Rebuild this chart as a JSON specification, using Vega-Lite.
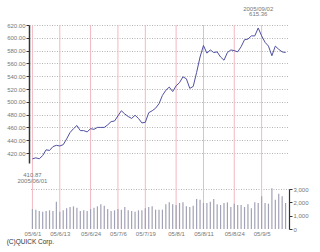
{
  "$schema": "https://vega.github.io/schema/vega-lite/v6.json",
  "padding": {"left": 6, "top": 5, "right": 0, "bottom": 0},
  "width": 260,
  "height": 204,
  "config": {"view": {"stroke": null}, "font": "Liberation Sans", "axis": {"labelFont": "Liberation Sans", "labelFontSize": 6, "labelColor": "#777", "title": null, "labelOverlap": false}},
  "title": {"text": "(C)QUICK Corp.", "orient": "bottom", "anchor": "start", "frame": "bounds", "fontSize": 6.5, "fontWeight": "normal", "color": "#333", "offset": 3, "font": "Liberation Sans"},
  "data": {"values": [
    {"date": "05/6/1", "price": 410.87, "vol": 1500, "label": "410.87\n2005/06/01"},
    {"date": "05/6/2", "price": 412.5, "vol": 1450},
    {"date": "05/6/3", "price": 411, "vol": 1350},
    {"date": "05/6/6", "price": 416, "vol": 1300},
    {"date": "05/6/7", "price": 425, "vol": 1350},
    {"date": "05/6/8", "price": 424, "vol": 1400},
    {"date": "05/6/9", "price": 430, "vol": 1350},
    {"date": "05/6/10", "price": 432, "vol": 2050},
    {"date": "05/6/13", "price": 431, "vol": 1300},
    {"date": "05/6/14", "price": 433, "vol": 1400},
    {"date": "05/6/15", "price": 442, "vol": 1550},
    {"date": "05/6/16", "price": 452, "vol": 1650},
    {"date": "05/6/17", "price": 458, "vol": 1700},
    {"date": "05/6/20", "price": 463, "vol": 1600},
    {"date": "05/6/21", "price": 455, "vol": 1350},
    {"date": "05/6/22", "price": 455, "vol": 1400},
    {"date": "05/6/23", "price": 453, "vol": 1350},
    {"date": "05/6/24", "price": 458, "vol": 1500},
    {"date": "05/6/27", "price": 457, "vol": 1600},
    {"date": "05/6/28", "price": 460, "vol": 1700},
    {"date": "05/6/29", "price": 460, "vol": 1850},
    {"date": "05/6/30", "price": 460, "vol": 1750},
    {"date": "05/7/1", "price": 464, "vol": 1500},
    {"date": "05/7/4", "price": 469, "vol": 1350},
    {"date": "05/7/5", "price": 470, "vol": 1400},
    {"date": "05/7/6", "price": 478, "vol": 1500},
    {"date": "05/7/7", "price": 486, "vol": 1450},
    {"date": "05/7/8", "price": 481, "vol": 1650},
    {"date": "05/7/11", "price": 477, "vol": 1400},
    {"date": "05/7/12", "price": 474, "vol": 1350},
    {"date": "05/7/13", "price": 479, "vol": 1300},
    {"date": "05/7/14", "price": 474, "vol": 1400},
    {"date": "05/7/15", "price": 467, "vol": 1400},
    {"date": "05/7/19", "price": 468, "vol": 1550},
    {"date": "05/7/20", "price": 483, "vol": 1650},
    {"date": "05/7/21", "price": 486, "vol": 1700},
    {"date": "05/7/22", "price": 490, "vol": 1450},
    {"date": "05/7/25", "price": 497, "vol": 1450},
    {"date": "05/7/26", "price": 510, "vol": 1450},
    {"date": "05/7/27", "price": 518, "vol": 1850},
    {"date": "05/7/28", "price": 523, "vol": 2000},
    {"date": "05/7/29", "price": 516, "vol": 1850},
    {"date": "05/8/1", "price": 525, "vol": 1800},
    {"date": "05/8/2", "price": 530, "vol": 1950},
    {"date": "05/8/3", "price": 539, "vol": 2000},
    {"date": "05/8/4", "price": 536, "vol": 1700},
    {"date": "05/8/5", "price": 521, "vol": 1650},
    {"date": "05/8/8", "price": 524, "vol": 1750},
    {"date": "05/8/9", "price": 546, "vol": 2250},
    {"date": "05/8/10", "price": 570, "vol": 2200},
    {"date": "05/8/11", "price": 588, "vol": 1950},
    {"date": "05/8/12", "price": 576, "vol": 1950},
    {"date": "05/8/15", "price": 581, "vol": 2050},
    {"date": "05/8/16", "price": 577, "vol": 2250},
    {"date": "05/8/17", "price": 578, "vol": 1850},
    {"date": "05/8/18", "price": 570, "vol": 1800},
    {"date": "05/8/19", "price": 565, "vol": 1950},
    {"date": "05/8/22", "price": 577, "vol": 2000},
    {"date": "05/8/23", "price": 581, "vol": 1650},
    {"date": "05/8/24", "price": 580, "vol": 1900},
    {"date": "05/8/25", "price": 578, "vol": 1800},
    {"date": "05/8/26", "price": 586, "vol": 1800},
    {"date": "05/8/29", "price": 597, "vol": 1650},
    {"date": "05/8/30", "price": 598, "vol": 1850},
    {"date": "05/8/31", "price": 603, "vol": 1550},
    {"date": "05/9/1", "price": 603, "vol": 2000},
    {"date": "05/9/2", "price": 615.36, "vol": 1950, "label": "2005/09/02\n615.36"},
    {"date": "05/9/5", "price": 603, "vol": 2450},
    {"date": "05/9/6", "price": 593, "vol": 1950},
    {"date": "05/9/7", "price": 587, "vol": 1900},
    {"date": "05/9/8", "price": 572, "vol": 3050},
    {"date": "05/9/9", "price": 587, "vol": 2200},
    {"date": "05/9/12", "price": 582, "vol": 2650},
    {"date": "05/9/13", "price": 578, "vol": 2450},
    {"date": "05/9/14", "price": 577, "vol": 1950}
  ]},
  "encoding": {
    "x": {"field": "date", "type": "ordinal", "sort": null, "scale": {"type": "point", "padding": 1},
      "axis": {"values": ["05/6/1", "05/6/13", "05/6/24", "05/7/6", "05/7/19", "05/8/1", "05/8/11", "05/8/24", "05/9/5"],
        "grid": false, "domain": false, "ticks": false, "labelAngle": 0, "labelPadding": 1, "labelOverlap": false}}
  },
  "layer": [
    {"mark": {"type": "rule", "color": "#f2b8c0", "strokeWidth": 1},
      "encoding": {"strokeOpacity": {"condition": {"test": "indexof(['05/6/1','05/6/13','05/6/24','05/7/6','05/7/19','05/8/1','05/8/11','05/8/24','05/9/5'], datum.date) >= 0", "value": 1}, "value": 0}}},
    {"encoding": {"y": {"field": "price", "type": "quantitative",
        "scale": {"domain": [404.4, 620], "range": [138, 0], "zero": false, "nice": false},
        "axis": {"values": [420, 440, 460, 480, 500, 520, 540, 560, 580, 600, 620], "format": ".2f", "labelOverlap": false, "labelSeparation": 0, "grid": true, "gridColor": "#b4b4b4", "gridDash": [1, 1.5], "domainColor": "#333", "domainWidth": 1.5, "tickColor": "#333", "tickSize": 3, "labelPadding": 1}}},
     "layer": [
      {"mark": {"type": "line", "color": "#5050a2", "strokeWidth": 1}},
      {"transform": [{"filter": {"field": "date", "equal": "05/6/1"}}],
        "mark": {"type": "text", "baseline": "top", "dy": 13, "lineBreak": "\n", "fontSize": 6, "lineHeight": 6.5, "color": "#777"},
        "encoding": {"text": {"field": "label"}}},
      {"transform": [{"filter": {"field": "date", "equal": "05/9/2"}}],
        "mark": {"type": "text", "baseline": "bottom", "dy": -16, "lineBreak": "\n", "fontSize": 6, "lineHeight": 5.5, "color": "#777"},
        "encoding": {"text": {"field": "label"}}}
    ]},
    {"mark": {"type": "bar", "size": 1.2, "color": "#a2a2b6"},
      "encoding": {"y": {"field": "vol", "type": "quantitative",
        "scale": {"domain": [0, 3000], "range": [204, 164], "nice": false},
        "axis": {"orient": "right", "values": [0, 1000, 2000, 3000], "format": ",d", "labelOverlap": false, "grid": true,
          "gridOpacity": {"condition": {"test": "datum.value == 3000", "value": 1}, "value": 0},
          "gridColor": "#b4b4b4", "gridDash": [1, 1.5], "domainColor": "#333", "domainWidth": 1.2, "tickColor": "#333", "tickSize": 3, "labelPadding": 1}}}}
  ],
  "resolve": {"scale": {"y": "independent"}}
}
